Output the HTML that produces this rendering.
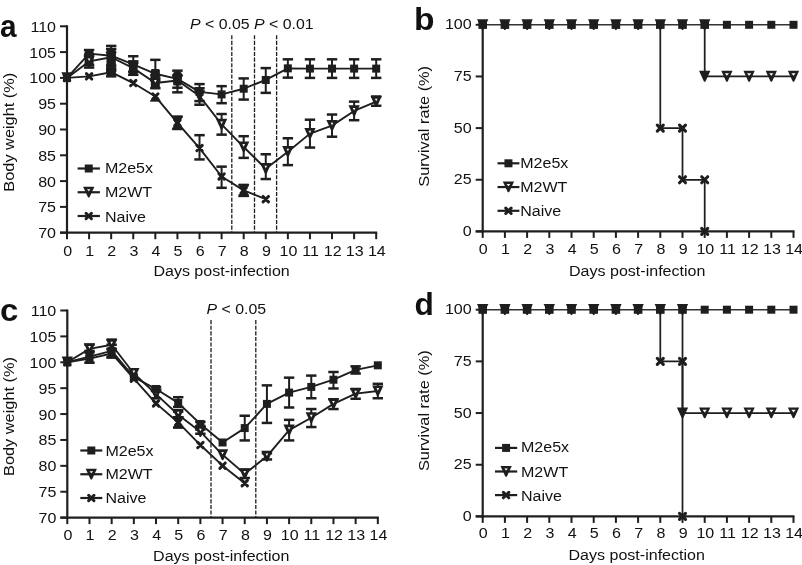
<!DOCTYPE html>
<html><head><meta charset="utf-8"><style>
html,body{margin:0;padding:0;background:#fff;width:802px;height:565px;overflow:hidden}
svg{display:block;font-family:"Liberation Sans", sans-serif;filter:grayscale(1)}
</style></head><body>
<svg width="802" height="565" viewBox="0 0 802 565" font-family='"Liberation Sans", sans-serif' fill="#111">
<rect width="802" height="565" fill="#fff"/>
<line x1="67" y1="25.3" x2="67" y2="233.7" stroke="#1e1e1e" stroke-width="2.2" />
<line x1="60" y1="232.7" x2="377.2" y2="232.7" stroke="#1e1e1e" stroke-width="2.2" />
<line x1="60" y1="232.7" x2="67" y2="232.7" stroke="#1e1e1e" stroke-width="2" />
<text transform="translate(56,238.2) scale(1.07,1)" font-size="15.0" text-anchor="end" font-weight="normal" >70</text>
<line x1="60" y1="206.9" x2="67" y2="206.9" stroke="#1e1e1e" stroke-width="2" />
<text transform="translate(56,212.4) scale(1.07,1)" font-size="15.0" text-anchor="end" font-weight="normal" >75</text>
<line x1="60" y1="181.1" x2="67" y2="181.1" stroke="#1e1e1e" stroke-width="2" />
<text transform="translate(56,186.6) scale(1.07,1)" font-size="15.0" text-anchor="end" font-weight="normal" >80</text>
<line x1="60" y1="155.3" x2="67" y2="155.3" stroke="#1e1e1e" stroke-width="2" />
<text transform="translate(56,160.8) scale(1.07,1)" font-size="15.0" text-anchor="end" font-weight="normal" >85</text>
<line x1="60" y1="129.5" x2="67" y2="129.5" stroke="#1e1e1e" stroke-width="2" />
<text transform="translate(56,135) scale(1.07,1)" font-size="15.0" text-anchor="end" font-weight="normal" >90</text>
<line x1="60" y1="103.7" x2="67" y2="103.7" stroke="#1e1e1e" stroke-width="2" />
<text transform="translate(56,109.2) scale(1.07,1)" font-size="15.0" text-anchor="end" font-weight="normal" >95</text>
<line x1="60" y1="77.9" x2="67" y2="77.9" stroke="#1e1e1e" stroke-width="2" />
<text transform="translate(56,83.4) scale(1.07,1)" font-size="15.0" text-anchor="end" font-weight="normal" >100</text>
<line x1="60" y1="52.1" x2="67" y2="52.1" stroke="#1e1e1e" stroke-width="2" />
<text transform="translate(56,57.6) scale(1.07,1)" font-size="15.0" text-anchor="end" font-weight="normal" >105</text>
<line x1="60" y1="26.3" x2="67" y2="26.3" stroke="#1e1e1e" stroke-width="2" />
<text transform="translate(56,31.8) scale(1.07,1)" font-size="15.0" text-anchor="end" font-weight="normal" >110</text>
<line x1="67" y1="232.7" x2="67" y2="239.2" stroke="#1e1e1e" stroke-width="2" />
<text transform="translate(67.6,255.5) scale(1.07,1)" font-size="15.0" text-anchor="middle" font-weight="normal" >0</text>
<line x1="89.09" y1="232.7" x2="89.09" y2="239.2" stroke="#1e1e1e" stroke-width="2" />
<text transform="translate(89.69,255.5) scale(1.07,1)" font-size="15.0" text-anchor="middle" font-weight="normal" >1</text>
<line x1="111.17" y1="232.7" x2="111.17" y2="239.2" stroke="#1e1e1e" stroke-width="2" />
<text transform="translate(111.77,255.5) scale(1.07,1)" font-size="15.0" text-anchor="middle" font-weight="normal" >2</text>
<line x1="133.26" y1="232.7" x2="133.26" y2="239.2" stroke="#1e1e1e" stroke-width="2" />
<text transform="translate(133.86,255.5) scale(1.07,1)" font-size="15.0" text-anchor="middle" font-weight="normal" >3</text>
<line x1="155.34" y1="232.7" x2="155.34" y2="239.2" stroke="#1e1e1e" stroke-width="2" />
<text transform="translate(155.94,255.5) scale(1.07,1)" font-size="15.0" text-anchor="middle" font-weight="normal" >4</text>
<line x1="177.43" y1="232.7" x2="177.43" y2="239.2" stroke="#1e1e1e" stroke-width="2" />
<text transform="translate(178.03,255.5) scale(1.07,1)" font-size="15.0" text-anchor="middle" font-weight="normal" >5</text>
<line x1="199.52" y1="232.7" x2="199.52" y2="239.2" stroke="#1e1e1e" stroke-width="2" />
<text transform="translate(200.12,255.5) scale(1.07,1)" font-size="15.0" text-anchor="middle" font-weight="normal" >6</text>
<line x1="221.6" y1="232.7" x2="221.6" y2="239.2" stroke="#1e1e1e" stroke-width="2" />
<text transform="translate(222.2,255.5) scale(1.07,1)" font-size="15.0" text-anchor="middle" font-weight="normal" >7</text>
<line x1="243.69" y1="232.7" x2="243.69" y2="239.2" stroke="#1e1e1e" stroke-width="2" />
<text transform="translate(244.29,255.5) scale(1.07,1)" font-size="15.0" text-anchor="middle" font-weight="normal" >8</text>
<line x1="265.77" y1="232.7" x2="265.77" y2="239.2" stroke="#1e1e1e" stroke-width="2" />
<text transform="translate(266.37,255.5) scale(1.07,1)" font-size="15.0" text-anchor="middle" font-weight="normal" >9</text>
<line x1="287.86" y1="232.7" x2="287.86" y2="239.2" stroke="#1e1e1e" stroke-width="2" />
<text transform="translate(288.46,255.5) scale(1.07,1)" font-size="15.0" text-anchor="middle" font-weight="normal" >10</text>
<line x1="309.95" y1="232.7" x2="309.95" y2="239.2" stroke="#1e1e1e" stroke-width="2" />
<text transform="translate(310.55,255.5) scale(1.07,1)" font-size="15.0" text-anchor="middle" font-weight="normal" >11</text>
<line x1="332.03" y1="232.7" x2="332.03" y2="239.2" stroke="#1e1e1e" stroke-width="2" />
<text transform="translate(332.63,255.5) scale(1.07,1)" font-size="15.0" text-anchor="middle" font-weight="normal" >12</text>
<line x1="354.12" y1="232.7" x2="354.12" y2="239.2" stroke="#1e1e1e" stroke-width="2" />
<text transform="translate(354.72,255.5) scale(1.07,1)" font-size="15.0" text-anchor="middle" font-weight="normal" >13</text>
<line x1="376.2" y1="232.7" x2="376.2" y2="239.2" stroke="#1e1e1e" stroke-width="2" />
<text transform="translate(376.8,255.5) scale(1.07,1)" font-size="15.0" text-anchor="middle" font-weight="normal" >14</text>
<line x1="231.8" y1="35.2" x2="231.8" y2="232.7" stroke="#1e1e1e" stroke-width="1.3" stroke-dasharray="4.1,1.5"/>
<line x1="254.5" y1="35.2" x2="254.5" y2="232.7" stroke="#1e1e1e" stroke-width="1.3" stroke-dasharray="4.1,1.5"/>
<line x1="276.6" y1="35.2" x2="276.6" y2="232.7" stroke="#1e1e1e" stroke-width="1.3" stroke-dasharray="4.1,1.5"/>
<text transform="translate(190,29.2) scale(1.06,1)" font-size="15"><tspan font-style="italic">P</tspan> &lt; 0.05</text>
<text transform="translate(254,29.2) scale(1.06,1)" font-size="15"><tspan font-style="italic">P</tspan> &lt; 0.01</text>
<path d="M67 77.9 L89.09 76.35 L111.17 72.22 L133.26 83.06 L155.34 96.48 L177.43 122.79 L199.52 148.08 L221.6 176.46 L243.69 190.39 L265.77 199.16" stroke="#1e1e1e" stroke-width="1.9" fill="none" stroke-linejoin="round"/>
<path d="M67 77.9 L89.09 61.39 L111.17 57.26 L133.26 68.1 L155.34 83.06 L177.43 80.48 L199.52 95.96 L221.6 124.34 L243.69 147.04 L265.77 168.72 L287.86 151.69 L309.95 133.63 L332.03 125.63 L354.12 110.92 L376.2 101.64" stroke="#1e1e1e" stroke-width="1.9" fill="none" stroke-linejoin="round"/>
<path d="M67 77.9 L89.09 53.65 L111.17 55.71 L133.26 64.48 L155.34 73.77 L177.43 78.93 L199.52 91.83 L221.6 94.41 L243.69 88.74 L265.77 79.96 L287.86 68.35 L309.95 68.61 L332.03 68.61 L354.12 68.61 L376.2 68.61" stroke="#1e1e1e" stroke-width="1.9" fill="none" stroke-linejoin="round"/>
<line x1="111.17" y1="76.35" x2="111.17" y2="68.61" stroke="#1e1e1e" stroke-width="2.0" />
<line x1="105.97" y1="76.35" x2="116.37" y2="76.35" stroke="#1e1e1e" stroke-width="2.5" />
<line x1="105.97" y1="68.61" x2="116.37" y2="68.61" stroke="#1e1e1e" stroke-width="2.5" />
<line x1="177.43" y1="128.98" x2="177.43" y2="116.6" stroke="#1e1e1e" stroke-width="2.0" />
<line x1="172.23" y1="128.98" x2="182.63" y2="128.98" stroke="#1e1e1e" stroke-width="2.5" />
<line x1="172.23" y1="116.6" x2="182.63" y2="116.6" stroke="#1e1e1e" stroke-width="2.5" />
<line x1="199.52" y1="159.43" x2="199.52" y2="135.18" stroke="#1e1e1e" stroke-width="2.0" />
<line x1="194.32" y1="159.43" x2="204.72" y2="159.43" stroke="#1e1e1e" stroke-width="2.5" />
<line x1="194.32" y1="135.18" x2="204.72" y2="135.18" stroke="#1e1e1e" stroke-width="2.5" />
<line x1="221.6" y1="187.81" x2="221.6" y2="166.65" stroke="#1e1e1e" stroke-width="2.0" />
<line x1="216.4" y1="187.81" x2="226.8" y2="187.81" stroke="#1e1e1e" stroke-width="2.5" />
<line x1="216.4" y1="166.65" x2="226.8" y2="166.65" stroke="#1e1e1e" stroke-width="2.5" />
<line x1="243.69" y1="195.55" x2="243.69" y2="185.23" stroke="#1e1e1e" stroke-width="2.0" />
<line x1="238.49" y1="195.55" x2="248.89" y2="195.55" stroke="#1e1e1e" stroke-width="2.5" />
<line x1="238.49" y1="185.23" x2="248.89" y2="185.23" stroke="#1e1e1e" stroke-width="2.5" />
<line x1="89.09" y1="67.58" x2="89.09" y2="54.68" stroke="#1e1e1e" stroke-width="2.0" />
<line x1="83.89" y1="67.58" x2="94.29" y2="67.58" stroke="#1e1e1e" stroke-width="2.5" />
<line x1="83.89" y1="54.68" x2="94.29" y2="54.68" stroke="#1e1e1e" stroke-width="2.5" />
<line x1="111.17" y1="70.68" x2="111.17" y2="49" stroke="#1e1e1e" stroke-width="2.0" />
<line x1="105.97" y1="70.68" x2="116.37" y2="70.68" stroke="#1e1e1e" stroke-width="2.5" />
<line x1="105.97" y1="49" x2="116.37" y2="49" stroke="#1e1e1e" stroke-width="2.5" />
<line x1="133.26" y1="74.8" x2="133.26" y2="61.39" stroke="#1e1e1e" stroke-width="2.0" />
<line x1="128.06" y1="74.8" x2="138.46" y2="74.8" stroke="#1e1e1e" stroke-width="2.5" />
<line x1="128.06" y1="61.39" x2="138.46" y2="61.39" stroke="#1e1e1e" stroke-width="2.5" />
<line x1="155.34" y1="88.22" x2="155.34" y2="75.32" stroke="#1e1e1e" stroke-width="2.0" />
<line x1="150.14" y1="88.22" x2="160.54" y2="88.22" stroke="#1e1e1e" stroke-width="2.5" />
<line x1="150.14" y1="75.32" x2="160.54" y2="75.32" stroke="#1e1e1e" stroke-width="2.5" />
<line x1="177.43" y1="92.35" x2="177.43" y2="75.32" stroke="#1e1e1e" stroke-width="2.0" />
<line x1="172.23" y1="92.35" x2="182.63" y2="92.35" stroke="#1e1e1e" stroke-width="2.5" />
<line x1="172.23" y1="75.32" x2="182.63" y2="75.32" stroke="#1e1e1e" stroke-width="2.5" />
<line x1="199.52" y1="104.73" x2="199.52" y2="88.22" stroke="#1e1e1e" stroke-width="2.0" />
<line x1="194.32" y1="104.73" x2="204.72" y2="104.73" stroke="#1e1e1e" stroke-width="2.5" />
<line x1="194.32" y1="88.22" x2="204.72" y2="88.22" stroke="#1e1e1e" stroke-width="2.5" />
<line x1="221.6" y1="134.66" x2="221.6" y2="114.02" stroke="#1e1e1e" stroke-width="2.0" />
<line x1="216.4" y1="134.66" x2="226.8" y2="134.66" stroke="#1e1e1e" stroke-width="2.5" />
<line x1="216.4" y1="114.02" x2="226.8" y2="114.02" stroke="#1e1e1e" stroke-width="2.5" />
<line x1="243.69" y1="157.88" x2="243.69" y2="136.21" stroke="#1e1e1e" stroke-width="2.0" />
<line x1="238.49" y1="157.88" x2="248.89" y2="157.88" stroke="#1e1e1e" stroke-width="2.5" />
<line x1="238.49" y1="136.21" x2="248.89" y2="136.21" stroke="#1e1e1e" stroke-width="2.5" />
<line x1="265.77" y1="179.04" x2="265.77" y2="154.27" stroke="#1e1e1e" stroke-width="2.0" />
<line x1="260.57" y1="179.04" x2="270.97" y2="179.04" stroke="#1e1e1e" stroke-width="2.5" />
<line x1="260.57" y1="154.27" x2="270.97" y2="154.27" stroke="#1e1e1e" stroke-width="2.5" />
<line x1="287.86" y1="165.1" x2="287.86" y2="138.27" stroke="#1e1e1e" stroke-width="2.0" />
<line x1="282.66" y1="165.1" x2="293.06" y2="165.1" stroke="#1e1e1e" stroke-width="2.5" />
<line x1="282.66" y1="138.27" x2="293.06" y2="138.27" stroke="#1e1e1e" stroke-width="2.5" />
<line x1="309.95" y1="147.56" x2="309.95" y2="119.7" stroke="#1e1e1e" stroke-width="2.0" />
<line x1="304.75" y1="147.56" x2="315.15" y2="147.56" stroke="#1e1e1e" stroke-width="2.5" />
<line x1="304.75" y1="119.7" x2="315.15" y2="119.7" stroke="#1e1e1e" stroke-width="2.5" />
<line x1="332.03" y1="136.72" x2="332.03" y2="114.54" stroke="#1e1e1e" stroke-width="2.0" />
<line x1="326.83" y1="136.72" x2="337.23" y2="136.72" stroke="#1e1e1e" stroke-width="2.5" />
<line x1="326.83" y1="114.54" x2="337.23" y2="114.54" stroke="#1e1e1e" stroke-width="2.5" />
<line x1="354.12" y1="120.21" x2="354.12" y2="101.64" stroke="#1e1e1e" stroke-width="2.0" />
<line x1="348.92" y1="120.21" x2="359.32" y2="120.21" stroke="#1e1e1e" stroke-width="2.5" />
<line x1="348.92" y1="101.64" x2="359.32" y2="101.64" stroke="#1e1e1e" stroke-width="2.5" />
<line x1="376.2" y1="105.76" x2="376.2" y2="96.48" stroke="#1e1e1e" stroke-width="2.0" />
<line x1="371" y1="105.76" x2="381.4" y2="105.76" stroke="#1e1e1e" stroke-width="2.5" />
<line x1="371" y1="96.48" x2="381.4" y2="96.48" stroke="#1e1e1e" stroke-width="2.5" />
<line x1="89.09" y1="65" x2="89.09" y2="50.04" stroke="#1e1e1e" stroke-width="2.0" />
<line x1="83.89" y1="65" x2="94.29" y2="65" stroke="#1e1e1e" stroke-width="2.5" />
<line x1="83.89" y1="50.04" x2="94.29" y2="50.04" stroke="#1e1e1e" stroke-width="2.5" />
<line x1="111.17" y1="65.52" x2="111.17" y2="45.91" stroke="#1e1e1e" stroke-width="2.0" />
<line x1="105.97" y1="65.52" x2="116.37" y2="65.52" stroke="#1e1e1e" stroke-width="2.5" />
<line x1="105.97" y1="45.91" x2="116.37" y2="45.91" stroke="#1e1e1e" stroke-width="2.5" />
<line x1="133.26" y1="71.71" x2="133.26" y2="56.23" stroke="#1e1e1e" stroke-width="2.0" />
<line x1="128.06" y1="71.71" x2="138.46" y2="71.71" stroke="#1e1e1e" stroke-width="2.5" />
<line x1="128.06" y1="56.23" x2="138.46" y2="56.23" stroke="#1e1e1e" stroke-width="2.5" />
<line x1="155.34" y1="80.48" x2="155.34" y2="59.84" stroke="#1e1e1e" stroke-width="2.0" />
<line x1="150.14" y1="80.48" x2="160.54" y2="80.48" stroke="#1e1e1e" stroke-width="2.5" />
<line x1="150.14" y1="59.84" x2="160.54" y2="59.84" stroke="#1e1e1e" stroke-width="2.5" />
<line x1="177.43" y1="87.7" x2="177.43" y2="70.68" stroke="#1e1e1e" stroke-width="2.0" />
<line x1="172.23" y1="87.7" x2="182.63" y2="87.7" stroke="#1e1e1e" stroke-width="2.5" />
<line x1="172.23" y1="70.68" x2="182.63" y2="70.68" stroke="#1e1e1e" stroke-width="2.5" />
<line x1="199.52" y1="101.12" x2="199.52" y2="84.09" stroke="#1e1e1e" stroke-width="2.0" />
<line x1="194.32" y1="101.12" x2="204.72" y2="101.12" stroke="#1e1e1e" stroke-width="2.5" />
<line x1="194.32" y1="84.09" x2="204.72" y2="84.09" stroke="#1e1e1e" stroke-width="2.5" />
<line x1="221.6" y1="103.18" x2="221.6" y2="86.16" stroke="#1e1e1e" stroke-width="2.0" />
<line x1="216.4" y1="103.18" x2="226.8" y2="103.18" stroke="#1e1e1e" stroke-width="2.5" />
<line x1="216.4" y1="86.16" x2="226.8" y2="86.16" stroke="#1e1e1e" stroke-width="2.5" />
<line x1="243.69" y1="99.57" x2="243.69" y2="78.42" stroke="#1e1e1e" stroke-width="2.0" />
<line x1="238.49" y1="99.57" x2="248.89" y2="99.57" stroke="#1e1e1e" stroke-width="2.5" />
<line x1="238.49" y1="78.42" x2="248.89" y2="78.42" stroke="#1e1e1e" stroke-width="2.5" />
<line x1="265.77" y1="92.86" x2="265.77" y2="68.1" stroke="#1e1e1e" stroke-width="2.0" />
<line x1="260.57" y1="92.86" x2="270.97" y2="92.86" stroke="#1e1e1e" stroke-width="2.5" />
<line x1="260.57" y1="68.1" x2="270.97" y2="68.1" stroke="#1e1e1e" stroke-width="2.5" />
<line x1="287.86" y1="77.64" x2="287.86" y2="59.32" stroke="#1e1e1e" stroke-width="2.0" />
<line x1="282.66" y1="77.64" x2="293.06" y2="77.64" stroke="#1e1e1e" stroke-width="2.5" />
<line x1="282.66" y1="59.32" x2="293.06" y2="59.32" stroke="#1e1e1e" stroke-width="2.5" />
<line x1="309.95" y1="77.9" x2="309.95" y2="59.32" stroke="#1e1e1e" stroke-width="2.0" />
<line x1="304.75" y1="77.9" x2="315.15" y2="77.9" stroke="#1e1e1e" stroke-width="2.5" />
<line x1="304.75" y1="59.32" x2="315.15" y2="59.32" stroke="#1e1e1e" stroke-width="2.5" />
<line x1="332.03" y1="77.9" x2="332.03" y2="59.32" stroke="#1e1e1e" stroke-width="2.0" />
<line x1="326.83" y1="77.9" x2="337.23" y2="77.9" stroke="#1e1e1e" stroke-width="2.5" />
<line x1="326.83" y1="59.32" x2="337.23" y2="59.32" stroke="#1e1e1e" stroke-width="2.5" />
<line x1="354.12" y1="77.9" x2="354.12" y2="59.32" stroke="#1e1e1e" stroke-width="2.0" />
<line x1="348.92" y1="77.9" x2="359.32" y2="77.9" stroke="#1e1e1e" stroke-width="2.5" />
<line x1="348.92" y1="59.32" x2="359.32" y2="59.32" stroke="#1e1e1e" stroke-width="2.5" />
<line x1="376.2" y1="77.9" x2="376.2" y2="59.32" stroke="#1e1e1e" stroke-width="2.0" />
<line x1="371" y1="77.9" x2="381.4" y2="77.9" stroke="#1e1e1e" stroke-width="2.5" />
<line x1="371" y1="59.32" x2="381.4" y2="59.32" stroke="#1e1e1e" stroke-width="2.5" />
<path d="M153.74 96.99 L156.94 96.99 L156.94 96.99 L160.44 101.19 L150.24 101.19 L153.74 96.99 Z" fill="#1e1e1e" stroke="#1e1e1e" stroke-width="0.8" stroke-linejoin="round"/>
<path d="M172.33 116.39 L182.53 116.39 L179.03 122.79 L182.53 129.19 L172.33 129.19 L175.83 122.79 Z" fill="#1e1e1e" stroke="#1e1e1e" stroke-width="0.8" stroke-linejoin="round"/>
<path d="M238.59 184.09 L248.79 184.09 L245.29 190.39 L248.79 196.69 L238.59 196.69 L242.09 190.39 Z" fill="#1e1e1e" stroke="#1e1e1e" stroke-width="0.8" stroke-linejoin="round"/>
<rect x="84.59" y="51" width="9" height="15.5" rx="1.5" fill="#1e1e1e"/>
<rect x="106.47" y="49.5" width="9.4" height="26" rx="1.5" fill="#1e1e1e"/>
<rect x="128.96" y="61.2" width="8.6" height="14.3" rx="1.5" fill="#1e1e1e"/>
<rect x="150.84" y="69" width="9" height="19.5" rx="1.5" fill="#1e1e1e"/>
<rect x="173.13" y="72" width="8.6" height="13.5" rx="1.5" fill="#1e1e1e"/>
<path d="M64.3 75.2 L69.7 80.6 M69.7 75.2 L64.3 80.6" stroke="#1e1e1e" stroke-width="3.0" stroke-linecap="round" fill="none"/>
<path d="M86.39 73.65 L91.79 79.05 M91.79 73.65 L86.39 79.05" stroke="#1e1e1e" stroke-width="3.0" stroke-linecap="round" fill="none"/>
<path d="M108.47 69.52 L113.87 74.92 M113.87 69.52 L108.47 74.92" stroke="#1e1e1e" stroke-width="3.0" stroke-linecap="round" fill="none"/>
<path d="M130.56 80.36 L135.96 85.76 M135.96 80.36 L130.56 85.76" stroke="#1e1e1e" stroke-width="3.0" stroke-linecap="round" fill="none"/>
<path d="M152.64 93.78 L158.04 99.18 M158.04 93.78 L152.64 99.18" stroke="#1e1e1e" stroke-width="3.0" stroke-linecap="round" fill="none"/>
<path d="M174.73 120.09 L180.13 125.49 M180.13 120.09 L174.73 125.49" stroke="#1e1e1e" stroke-width="3.0" stroke-linecap="round" fill="none"/>
<path d="M196.82 145.38 L202.22 150.78 M202.22 145.38 L196.82 150.78" stroke="#1e1e1e" stroke-width="3.0" stroke-linecap="round" fill="none"/>
<path d="M218.9 173.76 L224.3 179.16 M224.3 173.76 L218.9 179.16" stroke="#1e1e1e" stroke-width="3.0" stroke-linecap="round" fill="none"/>
<path d="M240.99 187.69 L246.39 193.09 M246.39 187.69 L240.99 193.09" stroke="#1e1e1e" stroke-width="3.0" stroke-linecap="round" fill="none"/>
<path d="M263.07 196.46 L268.47 201.86 M268.47 196.46 L263.07 201.86" stroke="#1e1e1e" stroke-width="3.0" stroke-linecap="round" fill="none"/>
<path d="M61.35 72.3 L72.65 72.3 L67.9 82.7 Q67 83.7 66.1 82.7 Z" fill="#1e1e1e"/>
<path d="M65.69 74.95 L68.31 74.95 L67 77.5 Z" fill="#fff"/>
<path d="M83.44 55.79 L94.74 55.79 L89.99 66.19 Q89.09 67.19 88.19 66.19 Z" fill="#1e1e1e"/>
<path d="M87.78 58.44 L90.4 58.44 L89.09 60.99 Z" fill="#fff"/>
<path d="M105.52 51.66 L116.82 51.66 L112.07 62.06 Q111.17 63.06 110.27 62.06 Z" fill="#1e1e1e"/>
<path d="M109.86 54.31 L112.48 54.31 L111.17 56.86 Z" fill="#fff"/>
<path d="M127.61 62.5 L138.91 62.5 L134.16 72.9 Q133.26 73.9 132.36 72.9 Z" fill="#1e1e1e"/>
<path d="M131.95 65.15 L134.57 65.15 L133.26 67.7 Z" fill="#fff"/>
<path d="M149.69 77.46 L160.99 77.46 L156.24 87.86 Q155.34 88.86 154.44 87.86 Z" fill="#1e1e1e"/>
<path d="M154.03 80.11 L156.65 80.11 L155.34 82.66 Z" fill="#fff"/>
<path d="M171.78 74.88 L183.08 74.88 L178.33 85.28 Q177.43 86.28 176.53 85.28 Z" fill="#1e1e1e"/>
<path d="M176.12 77.53 L178.74 77.53 L177.43 80.08 Z" fill="#fff"/>
<path d="M193.87 90.36 L205.17 90.36 L200.42 100.76 Q199.52 101.76 198.62 100.76 Z" fill="#1e1e1e"/>
<path d="M198.21 93.01 L200.83 93.01 L199.52 95.56 Z" fill="#fff"/>
<path d="M215.95 118.74 L227.25 118.74 L222.5 129.14 Q221.6 130.14 220.7 129.14 Z" fill="#1e1e1e"/>
<path d="M220.29 121.39 L222.91 121.39 L221.6 123.94 Z" fill="#fff"/>
<path d="M238.04 141.44 L249.34 141.44 L244.59 151.84 Q243.69 152.84 242.79 151.84 Z" fill="#1e1e1e"/>
<path d="M242.38 144.09 L245 144.09 L243.69 146.64 Z" fill="#fff"/>
<path d="M260.12 163.12 L271.42 163.12 L266.67 173.52 Q265.77 174.52 264.87 173.52 Z" fill="#1e1e1e"/>
<path d="M264.46 165.77 L267.08 165.77 L265.77 168.32 Z" fill="#fff"/>
<path d="M282.21 146.09 L293.51 146.09 L288.76 156.49 Q287.86 157.49 286.96 156.49 Z" fill="#1e1e1e"/>
<path d="M286.55 148.74 L289.17 148.74 L287.86 151.29 Z" fill="#fff"/>
<path d="M304.3 128.03 L315.6 128.03 L310.85 138.43 Q309.95 139.43 309.05 138.43 Z" fill="#1e1e1e"/>
<path d="M308.64 130.68 L311.26 130.68 L309.95 133.23 Z" fill="#fff"/>
<path d="M326.38 120.03 L337.68 120.03 L332.93 130.43 Q332.03 131.43 331.13 130.43 Z" fill="#1e1e1e"/>
<path d="M330.72 122.68 L333.34 122.68 L332.03 125.23 Z" fill="#fff"/>
<path d="M348.47 105.32 L359.77 105.32 L355.02 115.72 Q354.12 116.72 353.22 115.72 Z" fill="#1e1e1e"/>
<path d="M352.81 107.97 L355.43 107.97 L354.12 110.52 Z" fill="#fff"/>
<path d="M370.55 96.04 L381.85 96.04 L377.1 106.44 Q376.2 107.44 375.3 106.44 Z" fill="#1e1e1e"/>
<path d="M374.89 98.69 L377.51 98.69 L376.2 101.24 Z" fill="#fff"/>
<rect x="63" y="73.9" width="8" height="8" fill="#1e1e1e"/>
<rect x="85.09" y="49.65" width="8" height="8" fill="#1e1e1e"/>
<rect x="107.17" y="51.71" width="8" height="8" fill="#1e1e1e"/>
<rect x="129.26" y="60.48" width="8" height="8" fill="#1e1e1e"/>
<rect x="151.34" y="69.77" width="8" height="8" fill="#1e1e1e"/>
<rect x="173.43" y="74.93" width="8" height="8" fill="#1e1e1e"/>
<rect x="195.52" y="87.83" width="8" height="8" fill="#1e1e1e"/>
<rect x="217.6" y="90.41" width="8" height="8" fill="#1e1e1e"/>
<rect x="239.69" y="84.74" width="8" height="8" fill="#1e1e1e"/>
<rect x="261.77" y="75.96" width="8" height="8" fill="#1e1e1e"/>
<rect x="283.86" y="64.35" width="8" height="8" fill="#1e1e1e"/>
<rect x="305.95" y="64.61" width="8" height="8" fill="#1e1e1e"/>
<rect x="328.03" y="64.61" width="8" height="8" fill="#1e1e1e"/>
<rect x="350.12" y="64.61" width="8" height="8" fill="#1e1e1e"/>
<rect x="372.2" y="64.61" width="8" height="8" fill="#1e1e1e"/>
<line x1="77.6" y1="168.5" x2="99.9" y2="168.5" stroke="#1e1e1e" stroke-width="2.2" />
<rect x="84.75" y="164.5" width="8" height="8" fill="#1e1e1e"/>
<text transform="translate(104.9,172.7) scale(1.07,1)" font-size="15.0" text-anchor="start" font-weight="normal" >M2e5x</text>
<line x1="77.6" y1="192.25" x2="99.9" y2="192.25" stroke="#1e1e1e" stroke-width="2.2" />
<path d="M83.1 186.65 L94.4 186.65 L89.65 197.05 Q88.75 198.05 87.85 197.05 Z" fill="#1e1e1e"/>
<path d="M86.95 189.15 L90.55 189.15 L88.75 191.35 Z" fill="#fff"/>
<text transform="translate(104.9,197.1) scale(1.07,1)" font-size="15.0" text-anchor="start" font-weight="normal" >M2WT</text>
<line x1="77.6" y1="216" x2="99.9" y2="216" stroke="#1e1e1e" stroke-width="2.2" />
<path d="M86.05 213.3 L91.45 218.7 M91.45 213.3 L86.05 218.7" stroke="#1e1e1e" stroke-width="3.0" stroke-linecap="round" fill="none"/>
<text transform="translate(104.9,221.5) scale(1.07,1)" font-size="15.0" text-anchor="start" font-weight="normal" >Naive</text>
<text transform="translate(221.55,276.3) scale(1.07,1)" font-size="15.0" text-anchor="middle" font-weight="normal" >Days post-infection</text>
<text transform="translate(14,132.2) rotate(-90) scale(1.09,1)" font-size="15" text-anchor="middle">Body weight (%)</text>
<text transform="translate(0,36.8) scale(0.93,1)" font-size="32" text-anchor="start" font-weight="bold" >a</text>
<line x1="482.7" y1="23.8" x2="482.7" y2="232.4" stroke="#1e1e1e" stroke-width="2.2" />
<line x1="475.7" y1="231.4" x2="794.5" y2="231.4" stroke="#1e1e1e" stroke-width="2.2" />
<line x1="475.7" y1="231.4" x2="482.7" y2="231.4" stroke="#1e1e1e" stroke-width="2" />
<text transform="translate(471.7,235.9) scale(1.07,1)" font-size="15.0" text-anchor="end" font-weight="normal" >0</text>
<line x1="475.7" y1="179.75" x2="482.7" y2="179.75" stroke="#1e1e1e" stroke-width="2" />
<text transform="translate(471.7,184.25) scale(1.07,1)" font-size="15.0" text-anchor="end" font-weight="normal" >25</text>
<line x1="475.7" y1="128.1" x2="482.7" y2="128.1" stroke="#1e1e1e" stroke-width="2" />
<text transform="translate(471.7,132.6) scale(1.07,1)" font-size="15.0" text-anchor="end" font-weight="normal" >50</text>
<line x1="475.7" y1="76.45" x2="482.7" y2="76.45" stroke="#1e1e1e" stroke-width="2" />
<text transform="translate(471.7,80.95) scale(1.07,1)" font-size="15.0" text-anchor="end" font-weight="normal" >75</text>
<line x1="475.7" y1="24.8" x2="482.7" y2="24.8" stroke="#1e1e1e" stroke-width="2" />
<text transform="translate(471.7,29.3) scale(1.07,1)" font-size="15.0" text-anchor="end" font-weight="normal" >100</text>
<line x1="482.7" y1="231.4" x2="482.7" y2="237.9" stroke="#1e1e1e" stroke-width="2" />
<text transform="translate(483.3,254.3) scale(1.07,1)" font-size="15.0" text-anchor="middle" font-weight="normal" >0</text>
<line x1="504.9" y1="231.4" x2="504.9" y2="237.9" stroke="#1e1e1e" stroke-width="2" />
<text transform="translate(505.5,254.3) scale(1.07,1)" font-size="15.0" text-anchor="middle" font-weight="normal" >1</text>
<line x1="527.1" y1="231.4" x2="527.1" y2="237.9" stroke="#1e1e1e" stroke-width="2" />
<text transform="translate(527.7,254.3) scale(1.07,1)" font-size="15.0" text-anchor="middle" font-weight="normal" >2</text>
<line x1="549.3" y1="231.4" x2="549.3" y2="237.9" stroke="#1e1e1e" stroke-width="2" />
<text transform="translate(549.9,254.3) scale(1.07,1)" font-size="15.0" text-anchor="middle" font-weight="normal" >3</text>
<line x1="571.5" y1="231.4" x2="571.5" y2="237.9" stroke="#1e1e1e" stroke-width="2" />
<text transform="translate(572.1,254.3) scale(1.07,1)" font-size="15.0" text-anchor="middle" font-weight="normal" >4</text>
<line x1="593.7" y1="231.4" x2="593.7" y2="237.9" stroke="#1e1e1e" stroke-width="2" />
<text transform="translate(594.3,254.3) scale(1.07,1)" font-size="15.0" text-anchor="middle" font-weight="normal" >5</text>
<line x1="615.9" y1="231.4" x2="615.9" y2="237.9" stroke="#1e1e1e" stroke-width="2" />
<text transform="translate(616.5,254.3) scale(1.07,1)" font-size="15.0" text-anchor="middle" font-weight="normal" >6</text>
<line x1="638.1" y1="231.4" x2="638.1" y2="237.9" stroke="#1e1e1e" stroke-width="2" />
<text transform="translate(638.7,254.3) scale(1.07,1)" font-size="15.0" text-anchor="middle" font-weight="normal" >7</text>
<line x1="660.3" y1="231.4" x2="660.3" y2="237.9" stroke="#1e1e1e" stroke-width="2" />
<text transform="translate(660.9,254.3) scale(1.07,1)" font-size="15.0" text-anchor="middle" font-weight="normal" >8</text>
<line x1="682.5" y1="231.4" x2="682.5" y2="237.9" stroke="#1e1e1e" stroke-width="2" />
<text transform="translate(683.1,254.3) scale(1.07,1)" font-size="15.0" text-anchor="middle" font-weight="normal" >9</text>
<line x1="704.7" y1="231.4" x2="704.7" y2="237.9" stroke="#1e1e1e" stroke-width="2" />
<text transform="translate(705.3,254.3) scale(1.07,1)" font-size="15.0" text-anchor="middle" font-weight="normal" >10</text>
<line x1="726.9" y1="231.4" x2="726.9" y2="237.9" stroke="#1e1e1e" stroke-width="2" />
<text transform="translate(727.5,254.3) scale(1.07,1)" font-size="15.0" text-anchor="middle" font-weight="normal" >11</text>
<line x1="749.1" y1="231.4" x2="749.1" y2="237.9" stroke="#1e1e1e" stroke-width="2" />
<text transform="translate(749.7,254.3) scale(1.07,1)" font-size="15.0" text-anchor="middle" font-weight="normal" >12</text>
<line x1="771.3" y1="231.4" x2="771.3" y2="237.9" stroke="#1e1e1e" stroke-width="2" />
<text transform="translate(771.9,254.3) scale(1.07,1)" font-size="15.0" text-anchor="middle" font-weight="normal" >13</text>
<line x1="793.5" y1="231.4" x2="793.5" y2="237.9" stroke="#1e1e1e" stroke-width="2" />
<text transform="translate(794.1,254.3) scale(1.07,1)" font-size="15.0" text-anchor="middle" font-weight="normal" >14</text>
<path d="M482.7 24.8 L793.5 24.8" stroke="#333" stroke-width="1.4" fill="none"/>
<path d="M704.7 24.8 L704.7 76.45 L793.5 76.45" stroke="#1e1e1e" stroke-width="1.75" fill="none"/>
<path d="M660.3 24.8 L660.3 128.1 L682.5 128.1 L682.5 179.75 L704.7 179.75 L704.7 231.4" stroke="#1e1e1e" stroke-width="1.75" fill="none"/>
<path d="M477.05 19.2 L488.35 19.2 L483.6 29.6 Q482.7 30.6 481.8 29.6 Z" fill="#1e1e1e"/>
<rect x="478.4" y="20.3" width="8.6" height="8.6" fill="#1e1e1e"/>
<path d="M499.25 19.2 L510.55 19.2 L505.8 29.6 Q504.9 30.6 504 29.6 Z" fill="#1e1e1e"/>
<rect x="500.6" y="20.3" width="8.6" height="8.6" fill="#1e1e1e"/>
<path d="M521.45 19.2 L532.75 19.2 L528 29.6 Q527.1 30.6 526.2 29.6 Z" fill="#1e1e1e"/>
<rect x="522.8" y="20.3" width="8.6" height="8.6" fill="#1e1e1e"/>
<path d="M543.65 19.2 L554.95 19.2 L550.2 29.6 Q549.3 30.6 548.4 29.6 Z" fill="#1e1e1e"/>
<rect x="545" y="20.3" width="8.6" height="8.6" fill="#1e1e1e"/>
<path d="M565.85 19.2 L577.15 19.2 L572.4 29.6 Q571.5 30.6 570.6 29.6 Z" fill="#1e1e1e"/>
<rect x="567.2" y="20.3" width="8.6" height="8.6" fill="#1e1e1e"/>
<path d="M588.05 19.2 L599.35 19.2 L594.6 29.6 Q593.7 30.6 592.8 29.6 Z" fill="#1e1e1e"/>
<rect x="589.4" y="20.3" width="8.6" height="8.6" fill="#1e1e1e"/>
<path d="M610.25 19.2 L621.55 19.2 L616.8 29.6 Q615.9 30.6 615 29.6 Z" fill="#1e1e1e"/>
<rect x="611.6" y="20.3" width="8.6" height="8.6" fill="#1e1e1e"/>
<path d="M632.45 19.2 L643.75 19.2 L639 29.6 Q638.1 30.6 637.2 29.6 Z" fill="#1e1e1e"/>
<rect x="633.8" y="20.3" width="8.6" height="8.6" fill="#1e1e1e"/>
<path d="M654.65 19.2 L665.95 19.2 L661.2 29.6 Q660.3 30.6 659.4 29.6 Z" fill="#1e1e1e"/>
<rect x="656" y="20.3" width="8.6" height="8.6" fill="#1e1e1e"/>
<path d="M676.85 19.2 L688.15 19.2 L683.4 29.6 Q682.5 30.6 681.6 29.6 Z" fill="#1e1e1e"/>
<rect x="678.2" y="20.3" width="8.6" height="8.6" fill="#1e1e1e"/>
<path d="M699.05 19.2 L710.35 19.2 L705.6 29.6 Q704.7 30.6 703.8 29.6 Z" fill="#1e1e1e"/>
<rect x="700.4" y="20.3" width="8.6" height="8.6" fill="#1e1e1e"/>
<rect x="722.9" y="20.8" width="8" height="8" fill="#1e1e1e"/>
<rect x="745.1" y="20.8" width="8" height="8" fill="#1e1e1e"/>
<rect x="767.3" y="20.8" width="8" height="8" fill="#1e1e1e"/>
<rect x="789.5" y="20.8" width="8" height="8" fill="#1e1e1e"/>
<path d="M699.05 70.85 L710.35 70.85 L705.6 81.25 Q704.7 82.25 703.8 81.25 Z" fill="#1e1e1e"/>
<path d="M721.25 70.85 L732.55 70.85 L727.8 81.25 Q726.9 82.25 726 81.25 Z" fill="#1e1e1e"/>
<path d="M724.8 73.15 L729 73.15 L726.9 75.85 Z" fill="#fff"/>
<path d="M743.45 70.85 L754.75 70.85 L750 81.25 Q749.1 82.25 748.2 81.25 Z" fill="#1e1e1e"/>
<path d="M747 73.15 L751.2 73.15 L749.1 75.85 Z" fill="#fff"/>
<path d="M765.65 70.85 L776.95 70.85 L772.2 81.25 Q771.3 82.25 770.4 81.25 Z" fill="#1e1e1e"/>
<path d="M769.2 73.15 L773.4 73.15 L771.3 75.85 Z" fill="#fff"/>
<path d="M787.85 70.85 L799.15 70.85 L794.4 81.25 Q793.5 82.25 792.6 81.25 Z" fill="#1e1e1e"/>
<path d="M791.4 73.15 L795.6 73.15 L793.5 75.85 Z" fill="#fff"/>
<path d="M657.3 125.1 L663.3 131.1 M663.3 125.1 L657.3 131.1" stroke="#1e1e1e" stroke-width="3.1" stroke-linecap="round" fill="none"/>
<path d="M679.5 125.1 L685.5 131.1 M685.5 125.1 L679.5 131.1" stroke="#1e1e1e" stroke-width="3.1" stroke-linecap="round" fill="none"/>
<path d="M679.5 176.75 L685.5 182.75 M685.5 176.75 L679.5 182.75" stroke="#1e1e1e" stroke-width="3.1" stroke-linecap="round" fill="none"/>
<path d="M701.7 176.75 L707.7 182.75 M707.7 176.75 L701.7 182.75" stroke="#1e1e1e" stroke-width="3.1" stroke-linecap="round" fill="none"/>
<path d="M701.7 228.4 L707.7 234.4 M707.7 228.4 L701.7 234.4" stroke="#1e1e1e" stroke-width="3.1" stroke-linecap="round" fill="none"/>
<line x1="497.5" y1="163.3" x2="519.4" y2="163.3" stroke="#1e1e1e" stroke-width="2.2" />
<rect x="504.45" y="159.3" width="8" height="8" fill="#1e1e1e"/>
<text transform="translate(520.2,167.5) scale(1.07,1)" font-size="15.0" text-anchor="start" font-weight="normal" >M2e5x</text>
<line x1="497.5" y1="187.05" x2="519.4" y2="187.05" stroke="#1e1e1e" stroke-width="2.2" />
<path d="M502.8 181.45 L514.1 181.45 L509.35 191.85 Q508.45 192.85 507.55 191.85 Z" fill="#1e1e1e"/>
<path d="M506.65 183.95 L510.25 183.95 L508.45 186.15 Z" fill="#fff"/>
<text transform="translate(520.2,191.75) scale(1.07,1)" font-size="15.0" text-anchor="start" font-weight="normal" >M2WT</text>
<line x1="497.5" y1="210.8" x2="519.4" y2="210.8" stroke="#1e1e1e" stroke-width="2.2" />
<path d="M505.75 208.1 L511.15 213.5 M511.15 208.1 L505.75 213.5" stroke="#1e1e1e" stroke-width="3.0" stroke-linecap="round" fill="none"/>
<text transform="translate(520.2,216) scale(1.07,1)" font-size="15.0" text-anchor="start" font-weight="normal" >Naive</text>
<text transform="translate(637.2,275.6) scale(1.07,1)" font-size="15.0" text-anchor="middle" font-weight="normal" >Days post-infection</text>
<text transform="translate(429.2,126.3) rotate(-90) scale(1.09,1)" font-size="15" text-anchor="middle">Survival rate (%)</text>
<text transform="translate(413.9,30.4) scale(1.05,1)" font-size="32" text-anchor="start" font-weight="bold" >b</text>
<line x1="67.3" y1="309.5" x2="67.3" y2="518.62" stroke="#1e1e1e" stroke-width="2.2" />
<line x1="60.3" y1="517.62" x2="378.82" y2="517.62" stroke="#1e1e1e" stroke-width="2.2" />
<line x1="60.3" y1="517.62" x2="67.3" y2="517.62" stroke="#1e1e1e" stroke-width="2" />
<text transform="translate(56.3,523.12) scale(1.07,1)" font-size="15.0" text-anchor="end" font-weight="normal" >70</text>
<line x1="60.3" y1="491.73" x2="67.3" y2="491.73" stroke="#1e1e1e" stroke-width="2" />
<text transform="translate(56.3,497.23) scale(1.07,1)" font-size="15.0" text-anchor="end" font-weight="normal" >75</text>
<line x1="60.3" y1="465.84" x2="67.3" y2="465.84" stroke="#1e1e1e" stroke-width="2" />
<text transform="translate(56.3,471.34) scale(1.07,1)" font-size="15.0" text-anchor="end" font-weight="normal" >80</text>
<line x1="60.3" y1="439.95" x2="67.3" y2="439.95" stroke="#1e1e1e" stroke-width="2" />
<text transform="translate(56.3,445.45) scale(1.07,1)" font-size="15.0" text-anchor="end" font-weight="normal" >85</text>
<line x1="60.3" y1="414.06" x2="67.3" y2="414.06" stroke="#1e1e1e" stroke-width="2" />
<text transform="translate(56.3,419.56) scale(1.07,1)" font-size="15.0" text-anchor="end" font-weight="normal" >90</text>
<line x1="60.3" y1="388.17" x2="67.3" y2="388.17" stroke="#1e1e1e" stroke-width="2" />
<text transform="translate(56.3,393.67) scale(1.07,1)" font-size="15.0" text-anchor="end" font-weight="normal" >95</text>
<line x1="60.3" y1="362.28" x2="67.3" y2="362.28" stroke="#1e1e1e" stroke-width="2" />
<text transform="translate(56.3,367.78) scale(1.07,1)" font-size="15.0" text-anchor="end" font-weight="normal" >100</text>
<line x1="60.3" y1="336.39" x2="67.3" y2="336.39" stroke="#1e1e1e" stroke-width="2" />
<text transform="translate(56.3,341.89) scale(1.07,1)" font-size="15.0" text-anchor="end" font-weight="normal" >105</text>
<line x1="60.3" y1="310.5" x2="67.3" y2="310.5" stroke="#1e1e1e" stroke-width="2" />
<text transform="translate(56.3,316) scale(1.07,1)" font-size="15.0" text-anchor="end" font-weight="normal" >110</text>
<line x1="67.3" y1="517.62" x2="67.3" y2="524.12" stroke="#1e1e1e" stroke-width="2" />
<text transform="translate(67.9,539.8) scale(1.07,1)" font-size="15.0" text-anchor="middle" font-weight="normal" >0</text>
<line x1="89.48" y1="517.62" x2="89.48" y2="524.12" stroke="#1e1e1e" stroke-width="2" />
<text transform="translate(90.08,539.8) scale(1.07,1)" font-size="15.0" text-anchor="middle" font-weight="normal" >1</text>
<line x1="111.66" y1="517.62" x2="111.66" y2="524.12" stroke="#1e1e1e" stroke-width="2" />
<text transform="translate(112.26,539.8) scale(1.07,1)" font-size="15.0" text-anchor="middle" font-weight="normal" >2</text>
<line x1="133.84" y1="517.62" x2="133.84" y2="524.12" stroke="#1e1e1e" stroke-width="2" />
<text transform="translate(134.44,539.8) scale(1.07,1)" font-size="15.0" text-anchor="middle" font-weight="normal" >3</text>
<line x1="156.02" y1="517.62" x2="156.02" y2="524.12" stroke="#1e1e1e" stroke-width="2" />
<text transform="translate(156.62,539.8) scale(1.07,1)" font-size="15.0" text-anchor="middle" font-weight="normal" >4</text>
<line x1="178.2" y1="517.62" x2="178.2" y2="524.12" stroke="#1e1e1e" stroke-width="2" />
<text transform="translate(178.8,539.8) scale(1.07,1)" font-size="15.0" text-anchor="middle" font-weight="normal" >5</text>
<line x1="200.38" y1="517.62" x2="200.38" y2="524.12" stroke="#1e1e1e" stroke-width="2" />
<text transform="translate(200.98,539.8) scale(1.07,1)" font-size="15.0" text-anchor="middle" font-weight="normal" >6</text>
<line x1="222.56" y1="517.62" x2="222.56" y2="524.12" stroke="#1e1e1e" stroke-width="2" />
<text transform="translate(223.16,539.8) scale(1.07,1)" font-size="15.0" text-anchor="middle" font-weight="normal" >7</text>
<line x1="244.74" y1="517.62" x2="244.74" y2="524.12" stroke="#1e1e1e" stroke-width="2" />
<text transform="translate(245.34,539.8) scale(1.07,1)" font-size="15.0" text-anchor="middle" font-weight="normal" >8</text>
<line x1="266.92" y1="517.62" x2="266.92" y2="524.12" stroke="#1e1e1e" stroke-width="2" />
<text transform="translate(267.52,539.8) scale(1.07,1)" font-size="15.0" text-anchor="middle" font-weight="normal" >9</text>
<line x1="289.1" y1="517.62" x2="289.1" y2="524.12" stroke="#1e1e1e" stroke-width="2" />
<text transform="translate(289.7,539.8) scale(1.07,1)" font-size="15.0" text-anchor="middle" font-weight="normal" >10</text>
<line x1="311.28" y1="517.62" x2="311.28" y2="524.12" stroke="#1e1e1e" stroke-width="2" />
<text transform="translate(311.88,539.8) scale(1.07,1)" font-size="15.0" text-anchor="middle" font-weight="normal" >11</text>
<line x1="333.46" y1="517.62" x2="333.46" y2="524.12" stroke="#1e1e1e" stroke-width="2" />
<text transform="translate(334.06,539.8) scale(1.07,1)" font-size="15.0" text-anchor="middle" font-weight="normal" >12</text>
<line x1="355.64" y1="517.62" x2="355.64" y2="524.12" stroke="#1e1e1e" stroke-width="2" />
<text transform="translate(356.24,539.8) scale(1.07,1)" font-size="15.0" text-anchor="middle" font-weight="normal" >13</text>
<line x1="377.82" y1="517.62" x2="377.82" y2="524.12" stroke="#1e1e1e" stroke-width="2" />
<text transform="translate(378.42,539.8) scale(1.07,1)" font-size="15.0" text-anchor="middle" font-weight="normal" >14</text>
<line x1="211" y1="320.1" x2="211" y2="517.62" stroke="#1e1e1e" stroke-width="1.3" stroke-dasharray="4.1,1.5"/>
<line x1="255.8" y1="320.1" x2="255.8" y2="517.62" stroke="#1e1e1e" stroke-width="1.3" stroke-dasharray="4.1,1.5"/>
<text transform="translate(206.6,314.2) scale(1.06,1)" font-size="15"><tspan font-style="italic">P</tspan> &lt; 0.05</text>
<path d="M67.3 362.22 L89.48 358.62 L111.66 353.47 L133.84 378.69 L156.02 403.38 L178.2 422.42 L200.38 445.06 L222.56 465.64 L244.74 483.13" stroke="#1e1e1e" stroke-width="1.9" fill="none" stroke-linejoin="round"/>
<path d="M67.3 362.22 L89.48 348.84 L111.66 344.73 L133.84 373.54 L156.02 394.12 L178.2 414.7 L200.38 431.68 L222.56 454.83 L244.74 473.87 L266.92 456.37 L289.1 430.13 L311.28 417.79 L333.46 403.9 L355.64 393.61 L377.82 391.03" stroke="#1e1e1e" stroke-width="1.9" fill="none" stroke-linejoin="round"/>
<path d="M67.3 362.22 L89.48 356.56 L111.66 350.9 L133.84 377.14 L156.02 388.98 L178.2 402.87 L200.38 423.96 L222.56 442.48 L244.74 428.08 L266.92 403.9 L289.1 392.58 L311.28 386.92 L333.46 379.71 L355.64 369.94 L377.82 365.31" stroke="#1e1e1e" stroke-width="1.9" fill="none" stroke-linejoin="round"/>
<line x1="111.66" y1="357.59" x2="111.66" y2="349.36" stroke="#1e1e1e" stroke-width="2.0" />
<line x1="106.46" y1="357.59" x2="116.86" y2="357.59" stroke="#1e1e1e" stroke-width="2.5" />
<line x1="106.46" y1="349.36" x2="116.86" y2="349.36" stroke="#1e1e1e" stroke-width="2.5" />
<line x1="178.2" y1="427.56" x2="178.2" y2="417.27" stroke="#1e1e1e" stroke-width="2.0" />
<line x1="173" y1="427.56" x2="183.4" y2="427.56" stroke="#1e1e1e" stroke-width="2.5" />
<line x1="173" y1="417.27" x2="183.4" y2="417.27" stroke="#1e1e1e" stroke-width="2.5" />
<line x1="89.48" y1="352.45" x2="89.48" y2="344.73" stroke="#1e1e1e" stroke-width="2.0" />
<line x1="84.28" y1="352.45" x2="94.68" y2="352.45" stroke="#1e1e1e" stroke-width="2.5" />
<line x1="84.28" y1="344.73" x2="94.68" y2="344.73" stroke="#1e1e1e" stroke-width="2.5" />
<line x1="111.66" y1="348.84" x2="111.66" y2="339.58" stroke="#1e1e1e" stroke-width="2.0" />
<line x1="106.46" y1="348.84" x2="116.86" y2="348.84" stroke="#1e1e1e" stroke-width="2.5" />
<line x1="106.46" y1="339.58" x2="116.86" y2="339.58" stroke="#1e1e1e" stroke-width="2.5" />
<line x1="156.02" y1="398.24" x2="156.02" y2="390" stroke="#1e1e1e" stroke-width="2.0" />
<line x1="150.82" y1="398.24" x2="161.22" y2="398.24" stroke="#1e1e1e" stroke-width="2.5" />
<line x1="150.82" y1="390" x2="161.22" y2="390" stroke="#1e1e1e" stroke-width="2.5" />
<line x1="178.2" y1="417.79" x2="178.2" y2="411.61" stroke="#1e1e1e" stroke-width="2.0" />
<line x1="173" y1="417.79" x2="183.4" y2="417.79" stroke="#1e1e1e" stroke-width="2.5" />
<line x1="173" y1="411.61" x2="183.4" y2="411.61" stroke="#1e1e1e" stroke-width="2.5" />
<line x1="200.38" y1="433.74" x2="200.38" y2="429.62" stroke="#1e1e1e" stroke-width="2.0" />
<line x1="195.18" y1="433.74" x2="205.58" y2="433.74" stroke="#1e1e1e" stroke-width="2.5" />
<line x1="195.18" y1="429.62" x2="205.58" y2="429.62" stroke="#1e1e1e" stroke-width="2.5" />
<line x1="244.74" y1="477.98" x2="244.74" y2="469.75" stroke="#1e1e1e" stroke-width="2.0" />
<line x1="239.54" y1="477.98" x2="249.94" y2="477.98" stroke="#1e1e1e" stroke-width="2.5" />
<line x1="239.54" y1="469.75" x2="249.94" y2="469.75" stroke="#1e1e1e" stroke-width="2.5" />
<line x1="266.92" y1="459.46" x2="266.92" y2="453.29" stroke="#1e1e1e" stroke-width="2.0" />
<line x1="261.72" y1="459.46" x2="272.12" y2="459.46" stroke="#1e1e1e" stroke-width="2.5" />
<line x1="261.72" y1="453.29" x2="272.12" y2="453.29" stroke="#1e1e1e" stroke-width="2.5" />
<line x1="289.1" y1="440.43" x2="289.1" y2="419.85" stroke="#1e1e1e" stroke-width="2.0" />
<line x1="283.9" y1="440.43" x2="294.3" y2="440.43" stroke="#1e1e1e" stroke-width="2.5" />
<line x1="283.9" y1="419.85" x2="294.3" y2="419.85" stroke="#1e1e1e" stroke-width="2.5" />
<line x1="311.28" y1="427.05" x2="311.28" y2="409.04" stroke="#1e1e1e" stroke-width="2.0" />
<line x1="306.08" y1="427.05" x2="316.48" y2="427.05" stroke="#1e1e1e" stroke-width="2.5" />
<line x1="306.08" y1="409.04" x2="316.48" y2="409.04" stroke="#1e1e1e" stroke-width="2.5" />
<line x1="333.46" y1="409.04" x2="333.46" y2="399.26" stroke="#1e1e1e" stroke-width="2.0" />
<line x1="328.26" y1="409.04" x2="338.66" y2="409.04" stroke="#1e1e1e" stroke-width="2.5" />
<line x1="328.26" y1="399.26" x2="338.66" y2="399.26" stroke="#1e1e1e" stroke-width="2.5" />
<line x1="355.64" y1="398.75" x2="355.64" y2="388.98" stroke="#1e1e1e" stroke-width="2.0" />
<line x1="350.44" y1="398.75" x2="360.84" y2="398.75" stroke="#1e1e1e" stroke-width="2.5" />
<line x1="350.44" y1="388.98" x2="360.84" y2="388.98" stroke="#1e1e1e" stroke-width="2.5" />
<line x1="377.82" y1="398.24" x2="377.82" y2="383.83" stroke="#1e1e1e" stroke-width="2.0" />
<line x1="372.62" y1="398.24" x2="383.02" y2="398.24" stroke="#1e1e1e" stroke-width="2.5" />
<line x1="372.62" y1="383.83" x2="383.02" y2="383.83" stroke="#1e1e1e" stroke-width="2.5" />
<line x1="89.48" y1="362.74" x2="89.48" y2="350.9" stroke="#1e1e1e" stroke-width="2.0" />
<line x1="84.28" y1="362.74" x2="94.68" y2="362.74" stroke="#1e1e1e" stroke-width="2.5" />
<line x1="84.28" y1="350.9" x2="94.68" y2="350.9" stroke="#1e1e1e" stroke-width="2.5" />
<line x1="111.66" y1="357.08" x2="111.66" y2="344.73" stroke="#1e1e1e" stroke-width="2.0" />
<line x1="106.46" y1="357.08" x2="116.86" y2="357.08" stroke="#1e1e1e" stroke-width="2.5" />
<line x1="106.46" y1="344.73" x2="116.86" y2="344.73" stroke="#1e1e1e" stroke-width="2.5" />
<line x1="156.02" y1="391.03" x2="156.02" y2="386.92" stroke="#1e1e1e" stroke-width="2.0" />
<line x1="150.82" y1="391.03" x2="161.22" y2="391.03" stroke="#1e1e1e" stroke-width="2.5" />
<line x1="150.82" y1="386.92" x2="161.22" y2="386.92" stroke="#1e1e1e" stroke-width="2.5" />
<line x1="178.2" y1="406.98" x2="178.2" y2="397.21" stroke="#1e1e1e" stroke-width="2.0" />
<line x1="173" y1="406.98" x2="183.4" y2="406.98" stroke="#1e1e1e" stroke-width="2.5" />
<line x1="173" y1="397.21" x2="183.4" y2="397.21" stroke="#1e1e1e" stroke-width="2.5" />
<line x1="200.38" y1="426.02" x2="200.38" y2="421.9" stroke="#1e1e1e" stroke-width="2.0" />
<line x1="195.18" y1="426.02" x2="205.58" y2="426.02" stroke="#1e1e1e" stroke-width="2.5" />
<line x1="195.18" y1="421.9" x2="205.58" y2="421.9" stroke="#1e1e1e" stroke-width="2.5" />
<line x1="244.74" y1="440.43" x2="244.74" y2="415.73" stroke="#1e1e1e" stroke-width="2.0" />
<line x1="239.54" y1="440.43" x2="249.94" y2="440.43" stroke="#1e1e1e" stroke-width="2.5" />
<line x1="239.54" y1="415.73" x2="249.94" y2="415.73" stroke="#1e1e1e" stroke-width="2.5" />
<line x1="266.92" y1="422.93" x2="266.92" y2="385.37" stroke="#1e1e1e" stroke-width="2.0" />
<line x1="261.72" y1="422.93" x2="272.12" y2="422.93" stroke="#1e1e1e" stroke-width="2.5" />
<line x1="261.72" y1="385.37" x2="272.12" y2="385.37" stroke="#1e1e1e" stroke-width="2.5" />
<line x1="289.1" y1="407.5" x2="289.1" y2="377.66" stroke="#1e1e1e" stroke-width="2.0" />
<line x1="283.9" y1="407.5" x2="294.3" y2="407.5" stroke="#1e1e1e" stroke-width="2.5" />
<line x1="283.9" y1="377.66" x2="294.3" y2="377.66" stroke="#1e1e1e" stroke-width="2.5" />
<line x1="311.28" y1="398.24" x2="311.28" y2="375.6" stroke="#1e1e1e" stroke-width="2.0" />
<line x1="306.08" y1="398.24" x2="316.48" y2="398.24" stroke="#1e1e1e" stroke-width="2.5" />
<line x1="306.08" y1="375.6" x2="316.48" y2="375.6" stroke="#1e1e1e" stroke-width="2.5" />
<line x1="333.46" y1="388.46" x2="333.46" y2="372" stroke="#1e1e1e" stroke-width="2.0" />
<line x1="328.26" y1="388.46" x2="338.66" y2="388.46" stroke="#1e1e1e" stroke-width="2.5" />
<line x1="328.26" y1="372" x2="338.66" y2="372" stroke="#1e1e1e" stroke-width="2.5" />
<line x1="355.64" y1="373.54" x2="355.64" y2="366.34" stroke="#1e1e1e" stroke-width="2.0" />
<line x1="350.44" y1="373.54" x2="360.84" y2="373.54" stroke="#1e1e1e" stroke-width="2.5" />
<line x1="350.44" y1="366.34" x2="360.84" y2="366.34" stroke="#1e1e1e" stroke-width="2.5" />
<path d="M173.1 416.82 L183.3 416.82 L179.8 422.42 L183.3 428.02 L173.1 428.02 L176.6 422.42 Z" fill="#1e1e1e" stroke="#1e1e1e" stroke-width="0.8" stroke-linejoin="round"/>
<path d="M64.6 359.52 L70 364.92 M70 359.52 L64.6 364.92" stroke="#1e1e1e" stroke-width="3.0" stroke-linecap="round" fill="none"/>
<path d="M86.78 355.92 L92.18 361.32 M92.18 355.92 L86.78 361.32" stroke="#1e1e1e" stroke-width="3.0" stroke-linecap="round" fill="none"/>
<path d="M108.96 350.77 L114.36 356.17 M114.36 350.77 L108.96 356.17" stroke="#1e1e1e" stroke-width="3.0" stroke-linecap="round" fill="none"/>
<path d="M131.14 375.99 L136.54 381.38 M136.54 375.99 L131.14 381.38" stroke="#1e1e1e" stroke-width="3.0" stroke-linecap="round" fill="none"/>
<path d="M153.32 400.68 L158.72 406.08 M158.72 400.68 L153.32 406.08" stroke="#1e1e1e" stroke-width="3.0" stroke-linecap="round" fill="none"/>
<path d="M175.5 419.72 L180.9 425.12 M180.9 419.72 L175.5 425.12" stroke="#1e1e1e" stroke-width="3.0" stroke-linecap="round" fill="none"/>
<path d="M197.68 442.36 L203.08 447.76 M203.08 442.36 L197.68 447.76" stroke="#1e1e1e" stroke-width="3.0" stroke-linecap="round" fill="none"/>
<path d="M219.86 462.94 L225.26 468.34 M225.26 462.94 L219.86 468.34" stroke="#1e1e1e" stroke-width="3.0" stroke-linecap="round" fill="none"/>
<path d="M242.04 480.43 L247.44 485.83 M247.44 480.43 L242.04 485.83" stroke="#1e1e1e" stroke-width="3.0" stroke-linecap="round" fill="none"/>
<path d="M61.65 356.62 L72.95 356.62 L68.2 367.02 Q67.3 368.02 66.4 367.02 Z" fill="#1e1e1e"/>
<path d="M65.99 359.27 L68.61 359.27 L67.3 361.82 Z" fill="#fff"/>
<path d="M83.83 343.24 L95.13 343.24 L90.38 353.64 Q89.48 354.64 88.58 353.64 Z" fill="#1e1e1e"/>
<path d="M88.17 345.89 L90.79 345.89 L89.48 348.44 Z" fill="#fff"/>
<path d="M106.01 339.13 L117.31 339.13 L112.56 349.53 Q111.66 350.53 110.76 349.53 Z" fill="#1e1e1e"/>
<path d="M110.35 341.78 L112.97 341.78 L111.66 344.33 Z" fill="#fff"/>
<path d="M128.19 367.94 L139.49 367.94 L134.74 378.34 Q133.84 379.34 132.94 378.34 Z" fill="#1e1e1e"/>
<path d="M132.53 370.59 L135.15 370.59 L133.84 373.14 Z" fill="#fff"/>
<path d="M150.37 388.52 L161.67 388.52 L156.92 398.92 Q156.02 399.92 155.12 398.92 Z" fill="#1e1e1e"/>
<path d="M154.71 391.17 L157.33 391.17 L156.02 393.72 Z" fill="#fff"/>
<path d="M172.55 409.1 L183.85 409.1 L179.1 419.5 Q178.2 420.5 177.3 419.5 Z" fill="#1e1e1e"/>
<path d="M176.89 411.75 L179.51 411.75 L178.2 414.3 Z" fill="#fff"/>
<path d="M194.73 426.08 L206.03 426.08 L201.28 436.48 Q200.38 437.48 199.48 436.48 Z" fill="#1e1e1e"/>
<path d="M199.07 428.73 L201.69 428.73 L200.38 431.28 Z" fill="#fff"/>
<path d="M216.91 449.23 L228.21 449.23 L223.46 459.63 Q222.56 460.63 221.66 459.63 Z" fill="#1e1e1e"/>
<path d="M221.25 451.88 L223.87 451.88 L222.56 454.43 Z" fill="#fff"/>
<path d="M239.09 468.27 L250.39 468.27 L245.64 478.67 Q244.74 479.67 243.84 478.67 Z" fill="#1e1e1e"/>
<path d="M243.43 470.92 L246.05 470.92 L244.74 473.47 Z" fill="#fff"/>
<path d="M261.27 450.77 L272.57 450.77 L267.82 461.17 Q266.92 462.17 266.02 461.17 Z" fill="#1e1e1e"/>
<path d="M265.61 453.42 L268.23 453.42 L266.92 455.97 Z" fill="#fff"/>
<path d="M283.45 424.53 L294.75 424.53 L290 434.93 Q289.1 435.93 288.2 434.93 Z" fill="#1e1e1e"/>
<path d="M287.79 427.18 L290.41 427.18 L289.1 429.73 Z" fill="#fff"/>
<path d="M305.63 412.19 L316.93 412.19 L312.18 422.59 Q311.28 423.59 310.38 422.59 Z" fill="#1e1e1e"/>
<path d="M309.97 414.84 L312.59 414.84 L311.28 417.39 Z" fill="#fff"/>
<path d="M327.81 398.3 L339.11 398.3 L334.36 408.7 Q333.46 409.7 332.56 408.7 Z" fill="#1e1e1e"/>
<path d="M332.15 400.95 L334.77 400.95 L333.46 403.5 Z" fill="#fff"/>
<path d="M349.99 388.01 L361.29 388.01 L356.54 398.41 Q355.64 399.41 354.74 398.41 Z" fill="#1e1e1e"/>
<path d="M354.33 390.66 L356.95 390.66 L355.64 393.21 Z" fill="#fff"/>
<path d="M372.17 385.43 L383.47 385.43 L378.72 395.83 Q377.82 396.83 376.92 395.83 Z" fill="#1e1e1e"/>
<path d="M376.51 388.08 L379.13 388.08 L377.82 390.63 Z" fill="#fff"/>
<rect x="63.3" y="358.22" width="8" height="8" fill="#1e1e1e"/>
<rect x="85.48" y="352.56" width="8" height="8" fill="#1e1e1e"/>
<rect x="107.66" y="346.9" width="8" height="8" fill="#1e1e1e"/>
<rect x="129.84" y="373.14" width="8" height="8" fill="#1e1e1e"/>
<rect x="152.02" y="384.98" width="8" height="8" fill="#1e1e1e"/>
<rect x="174.2" y="398.87" width="8" height="8" fill="#1e1e1e"/>
<rect x="196.38" y="419.96" width="8" height="8" fill="#1e1e1e"/>
<rect x="218.56" y="438.48" width="8" height="8" fill="#1e1e1e"/>
<rect x="240.74" y="424.08" width="8" height="8" fill="#1e1e1e"/>
<rect x="262.92" y="399.9" width="8" height="8" fill="#1e1e1e"/>
<rect x="285.1" y="388.58" width="8" height="8" fill="#1e1e1e"/>
<rect x="307.28" y="382.92" width="8" height="8" fill="#1e1e1e"/>
<rect x="329.46" y="375.71" width="8" height="8" fill="#1e1e1e"/>
<rect x="351.64" y="365.94" width="8" height="8" fill="#1e1e1e"/>
<rect x="373.82" y="361.31" width="8" height="8" fill="#1e1e1e"/>
<line x1="80.3" y1="450.5" x2="102.3" y2="450.5" stroke="#1e1e1e" stroke-width="2.2" />
<rect x="87.3" y="446.5" width="8" height="8" fill="#1e1e1e"/>
<text transform="translate(105.4,455.5) scale(1.07,1)" font-size="15.0" text-anchor="start" font-weight="normal" >M2e5x</text>
<line x1="80.3" y1="474.25" x2="102.3" y2="474.25" stroke="#1e1e1e" stroke-width="2.2" />
<path d="M85.65 468.65 L96.95 468.65 L92.2 479.05 Q91.3 480.05 90.4 479.05 Z" fill="#1e1e1e"/>
<path d="M89.5 471.15 L93.1 471.15 L91.3 473.35 Z" fill="#fff"/>
<text transform="translate(105.4,479) scale(1.07,1)" font-size="15.0" text-anchor="start" font-weight="normal" >M2WT</text>
<line x1="80.3" y1="498" x2="102.3" y2="498" stroke="#1e1e1e" stroke-width="2.2" />
<path d="M88.6 495.3 L94 500.7 M94 495.3 L88.6 500.7" stroke="#1e1e1e" stroke-width="3.0" stroke-linecap="round" fill="none"/>
<text transform="translate(105.4,502.5) scale(1.07,1)" font-size="15.0" text-anchor="start" font-weight="normal" >Naive</text>
<text transform="translate(221.26,561.3) scale(1.07,1)" font-size="15.0" text-anchor="middle" font-weight="normal" >Days post-infection</text>
<text transform="translate(14,416.5) rotate(-90) scale(1.09,1)" font-size="15" text-anchor="middle">Body weight (%)</text>
<text transform="translate(0,321.2) scale(1.03,1)" font-size="32" text-anchor="start" font-weight="bold" >c</text>
<line x1="482.7" y1="308.7" x2="482.7" y2="517.4" stroke="#1e1e1e" stroke-width="2.2" />
<line x1="475.7" y1="516.4" x2="794.5" y2="516.4" stroke="#1e1e1e" stroke-width="2.2" />
<line x1="475.7" y1="516.4" x2="482.7" y2="516.4" stroke="#1e1e1e" stroke-width="2" />
<text transform="translate(471.7,520.9) scale(1.07,1)" font-size="15.0" text-anchor="end" font-weight="normal" >0</text>
<line x1="475.7" y1="464.73" x2="482.7" y2="464.73" stroke="#1e1e1e" stroke-width="2" />
<text transform="translate(471.7,469.23) scale(1.07,1)" font-size="15.0" text-anchor="end" font-weight="normal" >25</text>
<line x1="475.7" y1="413.05" x2="482.7" y2="413.05" stroke="#1e1e1e" stroke-width="2" />
<text transform="translate(471.7,417.55) scale(1.07,1)" font-size="15.0" text-anchor="end" font-weight="normal" >50</text>
<line x1="475.7" y1="361.38" x2="482.7" y2="361.38" stroke="#1e1e1e" stroke-width="2" />
<text transform="translate(471.7,365.88) scale(1.07,1)" font-size="15.0" text-anchor="end" font-weight="normal" >75</text>
<line x1="475.7" y1="309.7" x2="482.7" y2="309.7" stroke="#1e1e1e" stroke-width="2" />
<text transform="translate(471.7,314.2) scale(1.07,1)" font-size="15.0" text-anchor="end" font-weight="normal" >100</text>
<line x1="482.7" y1="516.4" x2="482.7" y2="522.9" stroke="#1e1e1e" stroke-width="2" />
<text transform="translate(483.3,538) scale(1.07,1)" font-size="15.0" text-anchor="middle" font-weight="normal" >0</text>
<line x1="504.9" y1="516.4" x2="504.9" y2="522.9" stroke="#1e1e1e" stroke-width="2" />
<text transform="translate(505.5,538) scale(1.07,1)" font-size="15.0" text-anchor="middle" font-weight="normal" >1</text>
<line x1="527.1" y1="516.4" x2="527.1" y2="522.9" stroke="#1e1e1e" stroke-width="2" />
<text transform="translate(527.7,538) scale(1.07,1)" font-size="15.0" text-anchor="middle" font-weight="normal" >2</text>
<line x1="549.3" y1="516.4" x2="549.3" y2="522.9" stroke="#1e1e1e" stroke-width="2" />
<text transform="translate(549.9,538) scale(1.07,1)" font-size="15.0" text-anchor="middle" font-weight="normal" >3</text>
<line x1="571.5" y1="516.4" x2="571.5" y2="522.9" stroke="#1e1e1e" stroke-width="2" />
<text transform="translate(572.1,538) scale(1.07,1)" font-size="15.0" text-anchor="middle" font-weight="normal" >4</text>
<line x1="593.7" y1="516.4" x2="593.7" y2="522.9" stroke="#1e1e1e" stroke-width="2" />
<text transform="translate(594.3,538) scale(1.07,1)" font-size="15.0" text-anchor="middle" font-weight="normal" >5</text>
<line x1="615.9" y1="516.4" x2="615.9" y2="522.9" stroke="#1e1e1e" stroke-width="2" />
<text transform="translate(616.5,538) scale(1.07,1)" font-size="15.0" text-anchor="middle" font-weight="normal" >6</text>
<line x1="638.1" y1="516.4" x2="638.1" y2="522.9" stroke="#1e1e1e" stroke-width="2" />
<text transform="translate(638.7,538) scale(1.07,1)" font-size="15.0" text-anchor="middle" font-weight="normal" >7</text>
<line x1="660.3" y1="516.4" x2="660.3" y2="522.9" stroke="#1e1e1e" stroke-width="2" />
<text transform="translate(660.9,538) scale(1.07,1)" font-size="15.0" text-anchor="middle" font-weight="normal" >8</text>
<line x1="682.5" y1="516.4" x2="682.5" y2="522.9" stroke="#1e1e1e" stroke-width="2" />
<text transform="translate(683.1,538) scale(1.07,1)" font-size="15.0" text-anchor="middle" font-weight="normal" >9</text>
<line x1="704.7" y1="516.4" x2="704.7" y2="522.9" stroke="#1e1e1e" stroke-width="2" />
<text transform="translate(705.3,538) scale(1.07,1)" font-size="15.0" text-anchor="middle" font-weight="normal" >10</text>
<line x1="726.9" y1="516.4" x2="726.9" y2="522.9" stroke="#1e1e1e" stroke-width="2" />
<text transform="translate(727.5,538) scale(1.07,1)" font-size="15.0" text-anchor="middle" font-weight="normal" >11</text>
<line x1="749.1" y1="516.4" x2="749.1" y2="522.9" stroke="#1e1e1e" stroke-width="2" />
<text transform="translate(749.7,538) scale(1.07,1)" font-size="15.0" text-anchor="middle" font-weight="normal" >12</text>
<line x1="771.3" y1="516.4" x2="771.3" y2="522.9" stroke="#1e1e1e" stroke-width="2" />
<text transform="translate(771.9,538) scale(1.07,1)" font-size="15.0" text-anchor="middle" font-weight="normal" >13</text>
<line x1="793.5" y1="516.4" x2="793.5" y2="522.9" stroke="#1e1e1e" stroke-width="2" />
<text transform="translate(794.1,538) scale(1.07,1)" font-size="15.0" text-anchor="middle" font-weight="normal" >14</text>
<path d="M482.7 309.7 L793.5 309.7" stroke="#333" stroke-width="1.4" fill="none"/>
<path d="M682.5 309.7 L682.5 413.05 L793.5 413.05" stroke="#1e1e1e" stroke-width="1.75" fill="none"/>
<path d="M660.3 309.7 L660.3 361.38 L682.5 361.38 L682.5 516.4" stroke="#1e1e1e" stroke-width="1.75" fill="none"/>
<path d="M477.05 304.1 L488.35 304.1 L483.6 314.5 Q482.7 315.5 481.8 314.5 Z" fill="#1e1e1e"/>
<rect x="478.4" y="305.2" width="8.6" height="8.6" fill="#1e1e1e"/>
<path d="M499.25 304.1 L510.55 304.1 L505.8 314.5 Q504.9 315.5 504 314.5 Z" fill="#1e1e1e"/>
<rect x="500.6" y="305.2" width="8.6" height="8.6" fill="#1e1e1e"/>
<path d="M521.45 304.1 L532.75 304.1 L528 314.5 Q527.1 315.5 526.2 314.5 Z" fill="#1e1e1e"/>
<rect x="522.8" y="305.2" width="8.6" height="8.6" fill="#1e1e1e"/>
<path d="M543.65 304.1 L554.95 304.1 L550.2 314.5 Q549.3 315.5 548.4 314.5 Z" fill="#1e1e1e"/>
<rect x="545" y="305.2" width="8.6" height="8.6" fill="#1e1e1e"/>
<path d="M565.85 304.1 L577.15 304.1 L572.4 314.5 Q571.5 315.5 570.6 314.5 Z" fill="#1e1e1e"/>
<rect x="567.2" y="305.2" width="8.6" height="8.6" fill="#1e1e1e"/>
<path d="M588.05 304.1 L599.35 304.1 L594.6 314.5 Q593.7 315.5 592.8 314.5 Z" fill="#1e1e1e"/>
<rect x="589.4" y="305.2" width="8.6" height="8.6" fill="#1e1e1e"/>
<path d="M610.25 304.1 L621.55 304.1 L616.8 314.5 Q615.9 315.5 615 314.5 Z" fill="#1e1e1e"/>
<rect x="611.6" y="305.2" width="8.6" height="8.6" fill="#1e1e1e"/>
<path d="M632.45 304.1 L643.75 304.1 L639 314.5 Q638.1 315.5 637.2 314.5 Z" fill="#1e1e1e"/>
<rect x="633.8" y="305.2" width="8.6" height="8.6" fill="#1e1e1e"/>
<path d="M654.65 304.1 L665.95 304.1 L661.2 314.5 Q660.3 315.5 659.4 314.5 Z" fill="#1e1e1e"/>
<rect x="656" y="305.2" width="8.6" height="8.6" fill="#1e1e1e"/>
<path d="M676.85 304.1 L688.15 304.1 L683.4 314.5 Q682.5 315.5 681.6 314.5 Z" fill="#1e1e1e"/>
<rect x="678.2" y="305.2" width="8.6" height="8.6" fill="#1e1e1e"/>
<rect x="700.7" y="305.7" width="8" height="8" fill="#1e1e1e"/>
<rect x="722.9" y="305.7" width="8" height="8" fill="#1e1e1e"/>
<rect x="745.1" y="305.7" width="8" height="8" fill="#1e1e1e"/>
<rect x="767.3" y="305.7" width="8" height="8" fill="#1e1e1e"/>
<rect x="789.5" y="305.7" width="8" height="8" fill="#1e1e1e"/>
<path d="M676.85 407.45 L688.15 407.45 L683.4 417.85 Q682.5 418.85 681.6 417.85 Z" fill="#1e1e1e"/>
<path d="M699.05 407.45 L710.35 407.45 L705.6 417.85 Q704.7 418.85 703.8 417.85 Z" fill="#1e1e1e"/>
<path d="M702.6 409.75 L706.8 409.75 L704.7 412.45 Z" fill="#fff"/>
<path d="M721.25 407.45 L732.55 407.45 L727.8 417.85 Q726.9 418.85 726 417.85 Z" fill="#1e1e1e"/>
<path d="M724.8 409.75 L729 409.75 L726.9 412.45 Z" fill="#fff"/>
<path d="M743.45 407.45 L754.75 407.45 L750 417.85 Q749.1 418.85 748.2 417.85 Z" fill="#1e1e1e"/>
<path d="M747 409.75 L751.2 409.75 L749.1 412.45 Z" fill="#fff"/>
<path d="M765.65 407.45 L776.95 407.45 L772.2 417.85 Q771.3 418.85 770.4 417.85 Z" fill="#1e1e1e"/>
<path d="M769.2 409.75 L773.4 409.75 L771.3 412.45 Z" fill="#fff"/>
<path d="M787.85 407.45 L799.15 407.45 L794.4 417.85 Q793.5 418.85 792.6 417.85 Z" fill="#1e1e1e"/>
<path d="M791.4 409.75 L795.6 409.75 L793.5 412.45 Z" fill="#fff"/>
<path d="M657.3 358.38 L663.3 364.38 M663.3 358.38 L657.3 364.38" stroke="#1e1e1e" stroke-width="3.1" stroke-linecap="round" fill="none"/>
<path d="M679.5 358.38 L685.5 364.38 M685.5 358.38 L679.5 364.38" stroke="#1e1e1e" stroke-width="3.1" stroke-linecap="round" fill="none"/>
<path d="M679.5 513.4 L685.5 519.4 M685.5 513.4 L679.5 519.4" stroke="#1e1e1e" stroke-width="3.1" stroke-linecap="round" fill="none"/>
<line x1="495" y1="447.9" x2="517.2" y2="447.9" stroke="#1e1e1e" stroke-width="2.2" />
<rect x="502.1" y="443.9" width="8" height="8" fill="#1e1e1e"/>
<text transform="translate(521,452.2) scale(1.07,1)" font-size="15.0" text-anchor="start" font-weight="normal" >M2e5x</text>
<line x1="495" y1="471.5" x2="517.2" y2="471.5" stroke="#1e1e1e" stroke-width="2.2" />
<path d="M500.45 465.9 L511.75 465.9 L507 476.3 Q506.1 477.3 505.2 476.3 Z" fill="#1e1e1e"/>
<path d="M504.3 468.4 L507.9 468.4 L506.1 470.6 Z" fill="#fff"/>
<text transform="translate(521,476.55) scale(1.07,1)" font-size="15.0" text-anchor="start" font-weight="normal" >M2WT</text>
<line x1="495" y1="495.1" x2="517.2" y2="495.1" stroke="#1e1e1e" stroke-width="2.2" />
<path d="M503.4 492.4 L508.8 497.8 M508.8 492.4 L503.4 497.8" stroke="#1e1e1e" stroke-width="3.0" stroke-linecap="round" fill="none"/>
<text transform="translate(521,500.9) scale(1.07,1)" font-size="15.0" text-anchor="start" font-weight="normal" >Naive</text>
<text transform="translate(636.7,560) scale(1.07,1)" font-size="15.0" text-anchor="middle" font-weight="normal" >Days post-infection</text>
<text transform="translate(429.2,410.7) rotate(-90) scale(1.09,1)" font-size="15" text-anchor="middle">Survival rate (%)</text>
<text transform="translate(414.5,315) scale(0.99,1)" font-size="32" text-anchor="start" font-weight="bold" >d</text>
</svg>
</body></html>
